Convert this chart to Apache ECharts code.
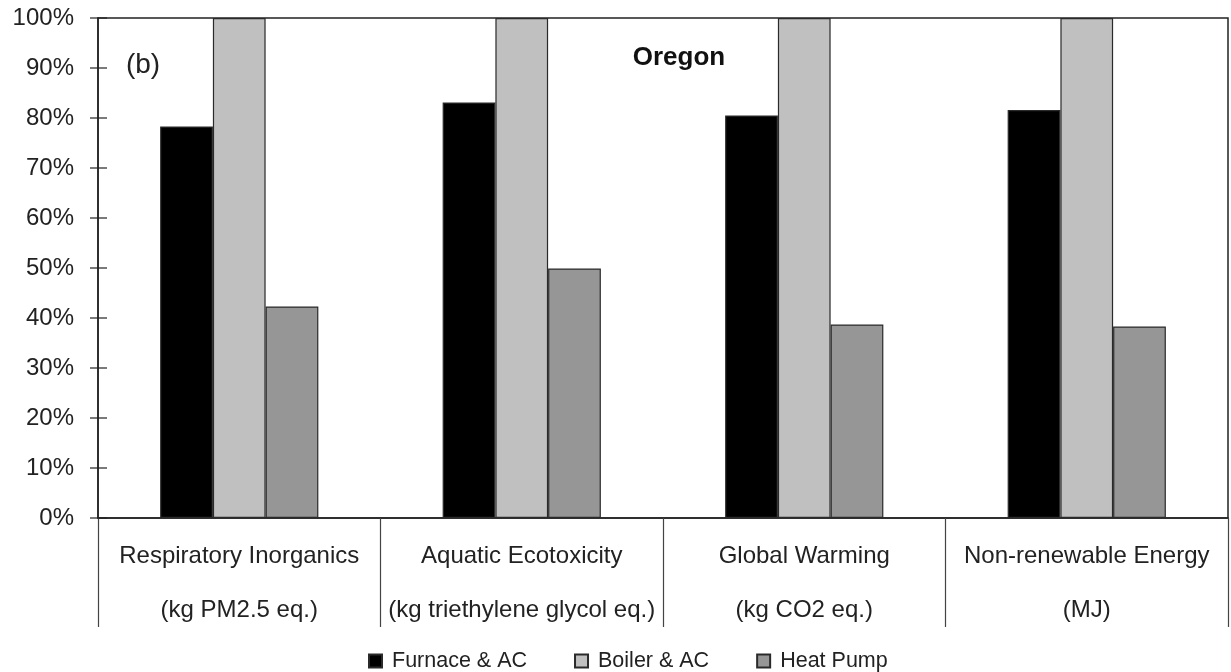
<!DOCTYPE html>
<html>
<head>
<meta charset="utf-8">
<script src="https://cdn.jsdelivr.net/npm/echarts@6/dist/echarts.min.js"></script>
<style>
html,body{margin:0;padding:0;background:#fff;}
#chart{width:1231px;height:672px;}
</style>
</head>
<body>
<div id="chart"></div>
<script>
var categoryNames = ['Respiratory Inorganics', 'Aquatic Ecotoxicity', 'Global Warming', 'Non-renewable Energy'];
var categoryUnits = ['(kg PM2.5 eq.)', '(kg triethylene glycol eq.)', '(kg CO2 eq.)', '(MJ)'];
var seriesNames = ['Furnace & AC', 'Boiler & AC', 'Heat Pump'];
var furnaceAC = [78.3, 83.1, 80.5, 81.6];
var boilerAC = [100, 100, 100, 100];
var heatPump = [42.3, 49.9, 38.7, 38.3];
var yTicks = {min: 0, max: 100, interval: 10};
var yTickValues = [0, 10, 20, 30, 40, 50, 60, 70, 80, 90, 100];
var panelLabel = '(b)';
var titleText = 'Oregon';

var categories = categoryNames.map(function (n, i) { return n + '\n' + categoryUnits[i]; });
var colors = ['#000000', '#c0c0c0', '#969696'];
var seriesData = [furnaceAC, boilerAC, heatPump];
var font = '"Liberation Sans", Arial, Helvetica, sans-serif';
var gridBox = {left: 98, right: 3, top: 18, bottom: 154};
var axisColor = '#222';
var tickOut = 8, tickIn = 9;

var chart = echarts.init(document.getElementById('chart'), null, {renderer: 'canvas'});
var allSeries = seriesNames.map(function (name, i) {
  return {
    name: name, type: 'bar',
    data: seriesData[i],
    barGap: '0%', barCategoryGap: '44%',
    itemStyle: {color: colors[i], borderColor: '#2a2a2a', borderWidth: 1.2},
    emphasis: {disabled: true}
  };
});
// y-axis ticks crossing the axis line, placed through the value scale
allSeries.push({
  name: 'yTicks', type: 'custom', silent: true, clip: false,
  data: yTickValues.map(function (v) { return [0, v]; }),
  encode: {x: 0, y: 1},
  renderItem: function (params, api) {
    var cs = params.coordSys;
    var y = api.coord([0, api.value(1)])[1];
    return {
      type: 'line',
      shape: {x1: cs.x - tickOut, y1: y, x2: cs.x + tickIn, y2: y},
      style: {stroke: axisColor, lineWidth: 1.2}
    };
  }
});

var option = {
  backgroundColor: '#ffffff',
  animation: false,
  textStyle: {fontFamily: font},
  title: [
    {text: titleText, left: 674, top: 53, textAlign: 'center', textVerticalAlign: 'middle',
     textStyle: {fontFamily: font, fontSize: 26, fontWeight: 'bold', color: '#111'}},
    {text: panelLabel, left: 138, top: 60, textAlign: 'center', textVerticalAlign: 'middle',
     textStyle: {fontFamily: font, fontSize: 28, fontWeight: 'normal', color: '#222'}}
  ],
  grid: {left: gridBox.left, right: gridBox.right, top: gridBox.top, bottom: gridBox.bottom,
         show: true, borderColor: axisColor, borderWidth: 1.5, backgroundColor: 'transparent'},
  legend: {
    top: 645, left: 363, itemGap: 47, itemWidth: 13, itemHeight: 13, icon: 'rect',
    textStyle: {fontFamily: font, fontSize: 21.5, color: '#222', padding: [0, 0, 0, 5]},
    data: seriesNames
  },
  xAxis: {
    type: 'category', data: categories, position: 'bottom',
    axisLine: {lineStyle: {color: axisColor, width: 1.5}},
    axisTick: {show: true, length: 109, interval: 0, lineStyle: {color: '#444', width: 1.2}},
    axisLabel: {interval: 0, margin: 11, fontFamily: font, fontSize: 24, color: '#222', lineHeight: 54, align: 'center'},
    splitLine: {show: false}
  },
  yAxis: {
    type: 'value', position: 'left', min: yTicks.min, max: yTicks.max, interval: yTicks.interval,
    axisLine: {show: true, lineStyle: {color: axisColor, width: 1.5}},
    axisTick: {show: false},
    axisLabel: {formatter: '{value}%', margin: 24, fontFamily: font, fontSize: 24, color: '#222'},
    splitLine: {show: false}
  },
  series: allSeries
};
chart.setOption(option);
</script>
</body>
</html>
